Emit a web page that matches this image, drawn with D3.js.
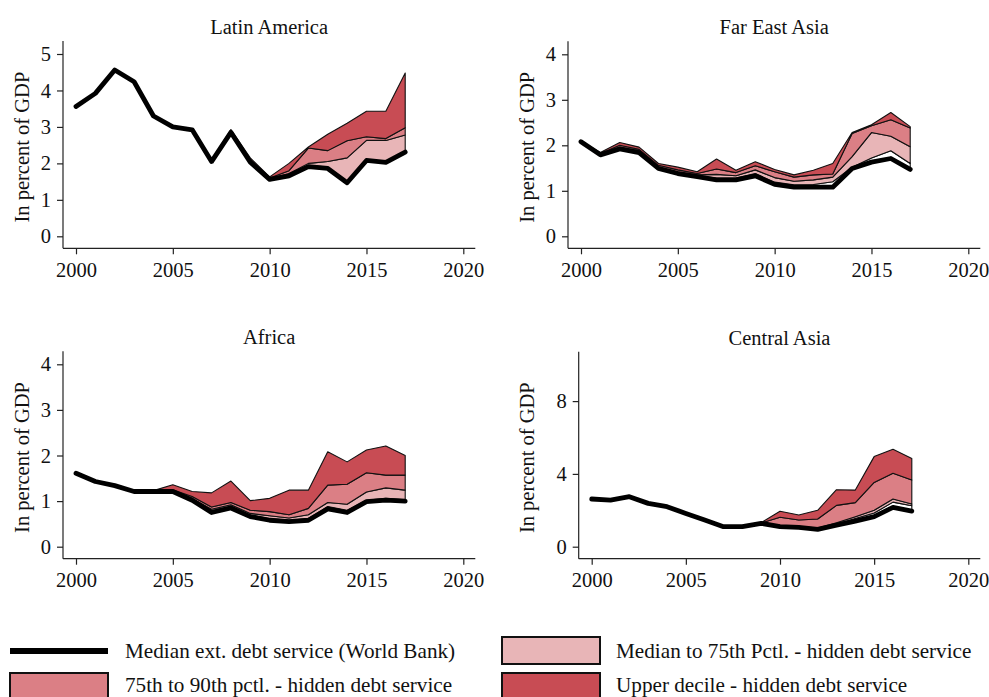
<!DOCTYPE html>
<html>
<head>
<meta charset="utf-8">
<script src="https://cdn.jsdelivr.net/npm/d3@7"></script>
<style>
  body { margin: 0; background: #fff; }
  svg text { font-family: "Liberation Serif", "Times New Roman", serif; fill: #111; }
</style>
</head>
<body>
<div id="chart"></div>
<script>
  const years = d3.range(2000, 2018);

  // Latin America
  const latamMedian = [3.56, 3.92, 4.56, 4.24, 3.30, 3.00, 2.92, 2.05, 2.85, 2.03, 1.56, 1.66, 1.91, 1.86, 1.47, 2.08, 2.03, 2.31];
  const latamP50    = [3.56, 3.92, 4.56, 4.24, 3.30, 3.00, 2.92, 2.06, 2.87, 2.05, 1.57, 1.69, 1.95, 1.90, 1.50, 2.10, 2.05, 2.34];
  const latamP75    = [3.56, 3.92, 4.56, 4.24, 3.30, 3.00, 2.92, 2.07, 2.88, 2.07, 1.58, 1.72, 2.00, 2.05, 2.15, 2.63, 2.63, 2.78];
  const latamP90    = [3.56, 3.92, 4.56, 4.24, 3.30, 3.00, 2.92, 2.08, 2.90, 2.10, 1.60, 1.80, 2.42, 2.35, 2.62, 2.73, 2.68, 2.98];
  const latamTop    = [3.57, 3.93, 4.57, 4.26, 3.32, 3.02, 2.94, 2.09, 2.93, 2.15, 1.63, 2.00, 2.45, 2.80, 3.10, 3.43, 3.43, 4.48];

  // Far East Asia
  const feaMedian = [2.08, 1.79, 1.92, 1.84, 1.49, 1.38, 1.31, 1.24, 1.24, 1.33, 1.14, 1.08, 1.08, 1.08, 1.49, 1.63, 1.71, 1.47];
  const feaP50    = [2.08, 1.80, 1.94, 1.86, 1.51, 1.40, 1.33, 1.28, 1.28, 1.38, 1.19, 1.13, 1.14, 1.20, 1.52, 1.72, 1.88, 1.60];
  const feaP75    = [2.08, 1.81, 1.96, 1.88, 1.53, 1.42, 1.35, 1.36, 1.33, 1.46, 1.29, 1.21, 1.24, 1.30, 1.75, 2.28, 2.20, 1.97];
  const feaP90    = [2.08, 1.82, 2.00, 1.91, 1.56, 1.46, 1.38, 1.48, 1.40, 1.55, 1.42, 1.30, 1.35, 1.37, 2.26, 2.43, 2.56, 2.38];
  const feaTop    = [2.09, 1.84, 2.06, 1.96, 1.60, 1.52, 1.42, 1.70, 1.45, 1.64, 1.47, 1.35, 1.45, 1.60, 2.28, 2.45, 2.72, 2.41];

  // Africa
  const afrMedian = [1.61, 1.43, 1.34, 1.21, 1.21, 1.21, 1.02, 0.75, 0.85, 0.66, 0.58, 0.55, 0.58, 0.83, 0.75, 0.99, 1.02, 1.00];
  const afrP50    = [1.61, 1.43, 1.34, 1.21, 1.21, 1.22, 1.04, 0.79, 0.88, 0.69, 0.62, 0.58, 0.62, 0.88, 0.80, 1.02, 1.06, 1.03];
  const afrP75    = [1.61, 1.43, 1.34, 1.21, 1.22, 1.23, 1.06, 0.82, 0.92, 0.73, 0.68, 0.63, 0.70, 0.97, 0.93, 1.20, 1.29, 1.24];
  const afrP90    = [1.61, 1.43, 1.34, 1.21, 1.22, 1.25, 1.10, 0.87, 0.97, 0.80, 0.77, 0.70, 0.84, 1.35, 1.37, 1.62, 1.57, 1.57];
  const afrTop    = [1.62, 1.44, 1.35, 1.22, 1.23, 1.36, 1.21, 1.18, 1.44, 1.01, 1.06, 1.24, 1.24, 2.08, 1.86, 2.12, 2.21, 2.00];

  // Central Asia
  const casMedian = [2.62, 2.56, 2.75, 2.38, 2.20, 1.83, 1.47, 1.10, 1.10, 1.28, 1.10, 1.06, 0.95, 1.19, 1.41, 1.65, 2.16, 1.96];
  const casP50    = [2.62, 2.56, 2.75, 2.38, 2.20, 1.83, 1.47, 1.10, 1.10, 1.28, 1.13, 1.08, 0.97, 1.25, 1.55, 1.85, 2.45, 2.25];
  const casP75    = [2.62, 2.56, 2.75, 2.38, 2.20, 1.83, 1.47, 1.10, 1.10, 1.28, 1.18, 1.12, 1.02, 1.32, 1.65, 2.00, 2.62, 2.35];
  const casP90    = [2.62, 2.56, 2.75, 2.38, 2.20, 1.83, 1.47, 1.10, 1.10, 1.30, 1.62, 1.47, 1.52, 2.27, 2.42, 3.53, 4.03, 3.66];
  const casTop    = [2.63, 2.57, 2.76, 2.39, 2.21, 1.84, 1.48, 1.11, 1.11, 1.32, 1.95, 1.74, 2.00, 3.13, 3.11, 4.95, 5.35, 4.85];

  const panelTitles = ['Latin America', 'Far East Asia', 'Africa', 'Central Asia'];
  const xTicks = [2000, 2005, 2010, 2015, 2020];
  const yTicksList = [[0, 1, 2, 3, 4, 5], [0, 1, 2, 3, 4], [0, 1, 2, 3, 4], [0, 4, 8]];
  const yMaxList = [5, 4, 4, 10];

  const legendLabels = [
    'Median ext. debt service (World Bank)',
    'Median to 75th Pctl. - hidden debt service',
    '75th to 90th pctl. - hidden debt service',
    'Upper decile - hidden debt service'
  ];

  const colWhite = '#ffffff';
  const colLight = '#e8b5b7';
  const colMid = '#db7f85';
  const colDark = '#c84c54';

  const width = 989;
  const height = 697;

  const svg = d3.select('#chart').append('svg')
    .attr('width', width)
    .attr('height', height);

  // pixel frame for each panel: x of 2000 / 2020, y of 0 / y max
  const frames = [
    { x0: 76, x1: 463.3, yb: 236.3, yt: 54, ylab: 23 },
    { x0: 581, x1: 968.3, yb: 236.3, yt: 54.3, ylab: 528 },
    { x0: 76, x1: 463.3, yb: 546.7, yt: 364.3, ylab: 23 },
    { x0: 591.7, x1: 968.3, yb: 546.7, yt: 364.7, ylab: 528 }
  ];

  const series = [
    [latamMedian, latamP50, latamP75, latamP90, latamTop],
    [feaMedian, feaP50, feaP75, feaP90, feaTop],
    [afrMedian, afrP50, afrP75, afrP90, afrTop],
    [casMedian, casP50, casP75, casP90, casTop]
  ];

  const pad = 12;
  const fontSize = 20.5;

  frames.forEach((f, i) => {
    const x = d3.scaleLinear().domain([2000, 2020]).range([f.x0, f.x1]);
    const y = d3.scaleLinear().domain([0, yMaxList[i]]).range([f.yb, f.yt]);
    const g = svg.append('g');

    const axLeft = f.x0 - pad - 1;
    const axBottom = f.yb + pad;

    // axes
    const yAxis = d3.axisLeft(y).tickValues(yTicksList[i]).tickSize(6).tickPadding(6).tickFormat(d3.format('d'));
    g.append('g')
      .attr('transform', `translate(${axLeft},0)`)
      .call(yAxis)
      .call(a => a.select('.domain').attr('d', `M0,${f.yt - pad - 1}V${axBottom}`));

    const xAxis = d3.axisBottom(x).tickValues(xTicks).tickSize(6).tickPadding(8).tickFormat(d3.format('d'));
    g.append('g')
      .attr('transform', `translate(0,${axBottom})`)
      .call(xAxis)
      .call(a => a.select('.domain').attr('d', `M${axLeft},0H${f.x1 + pad}`));

    g.selectAll('.domain, .tick line').attr('stroke', '#222').attr('stroke-width', 1.2);
    g.selectAll('.tick text').attr('font-size', fontSize).attr('fill', '#111')
      .style('font-family', '"Liberation Serif", "Times New Roman", serif');

    // titles
    g.append('text')
      .attr('x', (axLeft + f.x1 + pad) / 2)
      .attr('y', f.yt - 20)
      .attr('text-anchor', 'middle')
      .attr('font-size', fontSize)
      .text(panelTitles[i]);

    g.append('text')
      .attr('transform', `translate(${f.ylab + 6},${(f.yt + f.yb) / 2 + 2}) rotate(-90)`)
      .attr('text-anchor', 'middle')
      .attr('font-size', fontSize)
      .text('In percent of GDP');

    // bands
    const s = series[i];
    const bands = [
      { lo: s[0], hi: s[1], fill: colWhite },
      { lo: s[1], hi: s[2], fill: colLight },
      { lo: s[2], hi: s[3], fill: colMid },
      { lo: s[3], hi: s[4], fill: colDark }
    ];

    bands.forEach(b => {
      const area = d3.area()
        .x((d, k) => x(years[k]))
        .y0((d, k) => y(b.lo[k]))
        .y1((d, k) => y(b.hi[k]));
      g.append('path')
        .datum(years)
        .attr('d', area)
        .attr('fill', b.fill)
        .attr('stroke', '#111')
        .attr('stroke-width', 1.1)
        .attr('stroke-linejoin', 'round');
    });

    const line = d3.line()
      .x((d, k) => x(years[k]))
      .y(d => y(d));
    g.append('path')
      .datum(s[0])
      .attr('d', line)
      .attr('fill', 'none')
      .attr('stroke', '#000')
      .attr('stroke-width', 4.8)
      .attr('stroke-linejoin', 'round')
      .attr('stroke-linecap', 'round');
  });

  // legend
  const legend = svg.append('g');
  const legendPos = [
    { x: 10, y: 637, text: 125, base: 658 },
    { x: 502, y: 637, text: 616, base: 658 },
    { x: 10, y: 673, text: 125, base: 691.5 },
    { x: 502, y: 673, text: 616, base: 691.5 }
  ];
  const legendFills = [null, colLight, colMid, colDark];

  legendPos.forEach((p, i) => {
    if (legendFills[i] === null) {
      legend.append('line')
        .attr('x1', p.x).attr('x2', p.x + 98)
        .attr('y1', p.y + 14).attr('y2', p.y + 14)
        .attr('stroke', '#000').attr('stroke-width', 6);
    } else {
      legend.append('rect')
        .attr('x', p.x).attr('y', p.y)
        .attr('width', 98).attr('height', 27)
        .attr('fill', legendFills[i])
        .attr('stroke', '#111').attr('stroke-width', 2);
    }
    legend.append('text')
      .attr('x', p.text)
      .attr('y', p.base)
      .attr('font-size', 21.2)
      .text(legendLabels[i]);
  });
</script>
</body>
</html>
